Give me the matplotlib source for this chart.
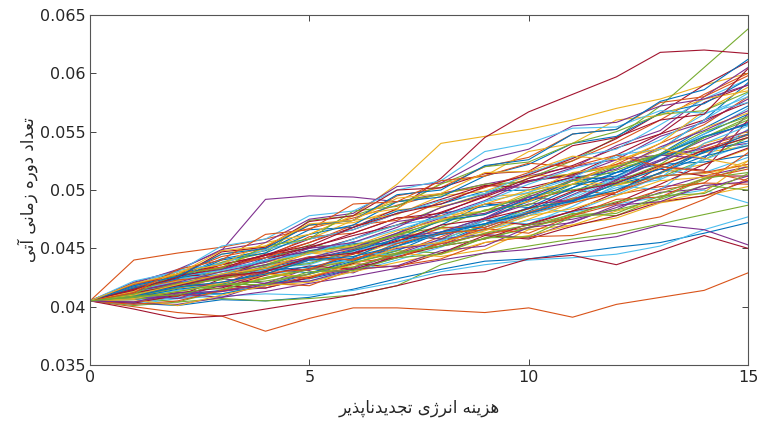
import matplotlib
matplotlib.use("Agg")
import matplotlib.pyplot as plt
import numpy as np

# x positions of each path
steps = list(range(16))

# path values, in units of 1e-4
paths_e4 = [
    [405, 403, 401, 406, 405, 408, 415, 424, 432, 439, 441, 446, 451, 455, 463, 472],
    [405, 400, 395, 392, 379, 390, 399, 399, 397, 395, 399, 391, 402, 408, 414, 429],
    [405, 418, 428, 438, 450, 462, 478, 505, 540, 546, 552, 560, 570, 578, 590, 600],
    [405, 420, 432, 448, 492, 495, 494, 490, 497, 505, 512, 520, 526, 530, 535, 540],
    [405, 401, 404, 407, 405, 407, 410, 418, 436, 446, 452, 458, 463, 471, 479, 487],
    [405, 402, 407, 409, 411, 410, 414, 421, 430, 436, 440, 442, 445, 452, 466, 477],
    [405, 398, 390, 392, 398, 404, 410, 418, 427, 430, 441, 444, 436, 448, 461, 450],
    [405, 406, 410, 414, 420, 424, 432, 442, 455, 470, 482, 498, 515, 530, 548, 565],
    [405, 440, 446, 451, 458, 467, 476, 487, 497, 503, 508, 514, 522, 530, 538, 548],
    [405, 418, 428, 445, 452, 470, 472, 483, 486, 494, 497, 505, 504, 512, 514, 522],
    [405, 403, 402, 408, 413, 420, 426, 433, 440, 446, 449, 455, 460, 470, 466, 453],
    [405, 415, 420, 428, 436, 447, 458, 470, 485, 497, 510, 525, 545, 572, 605, 638],
    [405, 409, 414, 420, 427, 433, 441, 449, 457, 466, 474, 481, 488, 494, 500, 489],
    [405, 414, 424, 432, 444, 455, 468, 484, 510, 545, 567, 582, 597, 618, 620, 617],
    [405, 420, 426, 441, 448, 466, 468, 482, 488, 499, 500, 511, 515, 522, 524, 530],
    [405, 404, 409, 413, 418, 426, 434, 446, 460, 474, 491, 508, 522, 540, 556, 580],
    [405, 410, 428, 434, 449, 458, 474, 479, 495, 499, 512, 513, 521, 522, 532, 538],
    [405, 408, 407, 414, 416, 425, 433, 445, 452, 470, 480, 496, 512, 526, 543, 558],
    [405, 416, 422, 438, 446, 474, 478, 490, 496, 505, 507, 514, 520, 530, 533, 545],
    [405, 403, 408, 411, 419, 422, 430, 440, 451, 466, 478, 495, 511, 529, 548, 570],
    [405, 412, 424, 436, 444, 458, 466, 480, 492, 504, 502, 511, 509, 518, 512, 512],
    [405, 407, 412, 411, 418, 428, 437, 448, 464, 476, 490, 502, 520, 535, 560, 592],
    [405, 418, 426, 437, 442, 460, 463, 476, 477, 488, 492, 500, 496, 503, 506, 505],
    [405, 412, 419, 417, 425, 433, 440, 446, 443, 449, 466, 470, 476, 489, 495, 503],
    [405, 410, 418, 424, 420, 428, 441, 450, 454, 462, 459, 473, 485, 498, 501, 512],
    [405, 408, 404, 414, 425, 432, 440, 448, 446, 459, 467, 480, 478, 493, 509, 520],
    [405, 415, 421, 424, 435, 441, 438, 455, 467, 471, 485, 481, 496, 512, 515, 528],
    [405, 403, 410, 418, 416, 425, 437, 434, 446, 461, 458, 469, 478, 490, 495, 508],
    [405, 411, 420, 426, 433, 429, 439, 452, 462, 468, 481, 492, 505, 514, 533, 542],
    [405, 402, 405, 414, 420, 418, 432, 435, 441, 455, 460, 461, 470, 477, 492, 510],
    [405, 413, 418, 426, 424, 432, 445, 459, 467, 463, 475, 489, 500, 515, 522, 535],
    [405, 404, 411, 408, 420, 433, 429, 445, 458, 462, 470, 475, 483, 501, 512, 520],
    [405, 416, 425, 430, 436, 448, 451, 462, 458, 470, 484, 492, 505, 511, 526, 545],
    [405, 410, 419, 425, 432, 438, 447, 444, 456, 474, 471, 486, 504, 500, 528, 552],
    [405, 412, 409, 424, 431, 440, 445, 457, 463, 474, 470, 482, 498, 520, 517, 560],
    [405, 418, 430, 426, 442, 451, 449, 463, 480, 486, 492, 505, 510, 525, 545, 557],
    [405, 409, 416, 421, 429, 424, 438, 442, 454, 462, 468, 478, 488, 500, 506, 532],
    [405, 414, 423, 432, 438, 446, 443, 456, 475, 482, 490, 508, 504, 520, 540, 550],
    [405, 411, 407, 419, 434, 431, 446, 462, 458, 476, 494, 490, 508, 530, 527, 565],
    [405, 420, 424, 427, 440, 453, 450, 462, 473, 479, 495, 500, 507, 522, 545, 560],
    [405, 413, 422, 433, 430, 440, 456, 452, 463, 474, 481, 493, 510, 510, 540, 555],
    [405, 409, 412, 416, 427, 435, 432, 443, 452, 458, 471, 482, 489, 505, 522, 536],
    [405, 417, 424, 432, 439, 448, 454, 454, 470, 488, 485, 502, 515, 531, 553, 572],
    [405, 412, 421, 418, 428, 440, 441, 452, 468, 468, 481, 493, 498, 515, 535, 547],
    [405, 406, 401, 410, 418, 421, 430, 438, 445, 455, 461, 470, 482, 490, 498, 525],
    [405, 415, 426, 432, 442, 447, 458, 473, 478, 491, 508, 512, 526, 546, 558, 578],
    [405, 410, 418, 415, 424, 432, 434, 445, 452, 458, 468, 477, 483, 492, 504, 500],
    [405, 413, 419, 426, 433, 436, 448, 455, 463, 471, 478, 490, 502, 509, 526, 540],
    [405, 418, 428, 425, 440, 451, 461, 470, 481, 494, 508, 513, 530, 548, 560, 575],
    [405, 408, 415, 419, 431, 434, 442, 459, 462, 471, 485, 490, 506, 518, 532, 548],
    [405, 411, 416, 425, 429, 432, 446, 442, 455, 467, 463, 478, 492, 494, 510, 518],
    [405, 416, 422, 430, 433, 446, 449, 462, 478, 482, 498, 515, 520, 535, 553, 566],
    [405, 414, 420, 417, 430, 441, 449, 460, 464, 476, 488, 491, 509, 525, 537, 551],
    [405, 409, 416, 425, 433, 437, 448, 462, 468, 483, 487, 505, 517, 530, 545, 562],
    [405, 412, 424, 428, 440, 446, 455, 466, 477, 490, 498, 510, 530, 535, 560, 583],
    [405, 420, 427, 436, 444, 450, 463, 476, 480, 495, 510, 521, 536, 548, 575, 590],
    [405, 410, 418, 426, 433, 441, 448, 458, 474, 479, 492, 508, 512, 530, 546, 556],
    [405, 415, 423, 426, 433, 443, 440, 454, 463, 466, 480, 489, 498, 512, 515, 522],
    [405, 407, 413, 420, 428, 426, 436, 451, 455, 465, 478, 484, 495, 508, 511, 525],
    [405, 414, 419, 427, 436, 442, 451, 463, 476, 480, 494, 509, 518, 537, 551, 568],
    [405, 411, 420, 423, 435, 447, 453, 461, 474, 482, 496, 508, 520, 531, 550, 563],
    [405, 418, 426, 431, 440, 445, 458, 470, 476, 490, 505, 518, 528, 543, 565, 580],
    [405, 412, 418, 426, 430, 442, 446, 456, 470, 475, 484, 499, 506, 521, 534, 545],
    [405, 409, 417, 421, 428, 440, 443, 452, 464, 471, 480, 491, 500, 515, 529, 538],
    [405, 416, 428, 434, 442, 455, 470, 474, 490, 502, 515, 525, 541, 560, 582, 600],
    [405, 410, 419, 428, 433, 446, 452, 465, 474, 488, 500, 505, 524, 540, 568, 588],
    [405, 413, 421, 430, 438, 450, 455, 468, 485, 496, 507, 519, 538, 551, 580, 605],
    [405, 408, 413, 419, 422, 428, 438, 446, 452, 463, 470, 479, 490, 497, 510, 515],
    [405, 419, 431, 437, 449, 458, 466, 480, 491, 497, 514, 528, 535, 556, 578, 595],
    [405, 414, 426, 433, 445, 452, 468, 480, 488, 503, 513, 527, 544, 566, 590, 610],
    [405, 416, 424, 440, 446, 462, 470, 490, 494, 512, 522, 540, 546, 566, 574, 595],
    [405, 419, 428, 443, 450, 470, 474, 495, 502, 520, 528, 548, 552, 575, 580, 598],
    [405, 413, 430, 436, 455, 462, 478, 484, 506, 512, 533, 540, 560, 564, 578, 585],
    [405, 421, 431, 449, 455, 475, 480, 503, 506, 526, 535, 555, 558, 572, 578, 590],
    [405, 411, 428, 433, 452, 458, 482, 486, 505, 520, 524, 540, 550, 565, 568, 584],
    [405, 422, 430, 452, 458, 478, 482, 500, 508, 533, 540, 553, 554, 568, 566, 575],
    [405, 415, 425, 447, 451, 473, 478, 500, 502, 514, 516, 538, 545, 560, 565, 604],
    [405, 418, 426, 445, 450, 470, 474, 496, 500, 521, 526, 548, 552, 576, 586, 612],
    [405, 412, 432, 440, 462, 466, 488, 490, 508, 512, 523, 520, 530, 520, 516, 508],
    [405, 420, 428, 448, 452, 471, 474, 493, 497, 515, 516, 529, 526, 536, 527, 520],
    [405, 404, 412, 413, 420, 422, 432, 435, 448, 452, 468, 472, 487, 490, 504, 507],
    [405, 409, 410, 419, 419, 430, 431, 442, 445, 459, 460, 477, 480, 495, 497, 514],
]

x_ticks = [0, 5, 10, 15]
y_ticks = [0.035, 0.04, 0.045, 0.05, 0.055, 0.06, 0.065]

x_label = "هزینه انرژی تجدیدناپذیر"
y_label = "تعداد دوره زمانی آتی"

# matlab default line colours
colors = ["#0072BD", "#D95319", "#EDB120", "#7E2F8E",
          "#77AC30", "#4DBEEE", "#A2142F"]

# simple persian shaping: presentation forms, then reverse for RTL
FORMS = {
    "ا": ("\uFE8D", "\uFE8E"), "آ": ("\uFE81", "\uFE82"),
    "د": ("\uFEA9", "\uFEAA"), "ذ": ("\uFEAB", "\uFEAC"),
    "ر": ("\uFEAD", "\uFEAE"), "ز": ("\uFEAF", "\uFEB0"),
    "ژ": ("\uFB8A", "\uFB8B"), "و": ("\uFEED", "\uFEEE"),
    "ت": ("\uFE95", "\uFE96", "\uFE97", "\uFE98"),
    "ع": ("\uFEC9", "\uFECA", "\uFECB", "\uFECC"),
    "ه": ("\uFEE9", "\uFEEA", "\uFEEB", "\uFEEC"),
    "م": ("\uFEE1", "\uFEE2", "\uFEE3", "\uFEE4"),
    "ن": ("\uFEE5", "\uFEE6", "\uFEE7", "\uFEE8"),
    "ی": ("\uFBFC", "\uFBFD", "\uFBFE", "\uFBFF"),
    "ج": ("\uFE9D", "\uFE9E", "\uFE9F", "\uFEA0"),
    "پ": ("\uFB56", "\uFB57", "\uFB58", "\uFB59"),
}


def shape_fa(text):
    out = []
    for i, ch in enumerate(text):
        if ch not in FORMS:
            out.append(ch)
            continue
        f = FORMS[ch]
        prev = text[i - 1] if i > 0 else ""
        nxt = text[i + 1] if i + 1 < len(text) else ""
        join_prev = prev in FORMS and len(FORMS[prev]) == 4
        join_next = len(f) == 4 and nxt in FORMS
        if join_prev and join_next:
            out.append(f[3])
        elif join_prev:
            out.append(f[1])
        elif join_next:
            out.append(f[2])
        else:
            out.append(f[0])
    return "".join(out)[::-1]


plt.rcParams["font.family"] = ["DejaVu Sans"]

fig = plt.figure(figsize=(7.59, 4.23), dpi=100)
ax = fig.add_axes([0.1186, 0.137, 0.8669, 0.8275])

for i, p in enumerate(paths_e4):
    ax.plot(steps, np.array(p) / 1e4, color=colors[i % len(colors)], lw=0.8)

ax.set_xlim(0, 15)
ax.set_ylim(0.035, 0.065)
ax.set_xticks(x_ticks)
ax.set_yticks(y_ticks)
ax.set_yticklabels([f"{v:g}" for v in y_ticks])
ax.tick_params(direction="in", top=True, right=True, length=4,
               labelsize=11.5, colors="#262626", width=0.6)
for s in ax.spines.values():
    s.set_color("#555555")
    s.set_linewidth(0.8)

ax.set_xlabel(shape_fa(x_label), fontsize=12, color="#262626", labelpad=10)
ax.set_ylabel(shape_fa(y_label), fontsize=12, color="#262626", labelpad=1)

fig.savefig("out.png", dpi=100)
